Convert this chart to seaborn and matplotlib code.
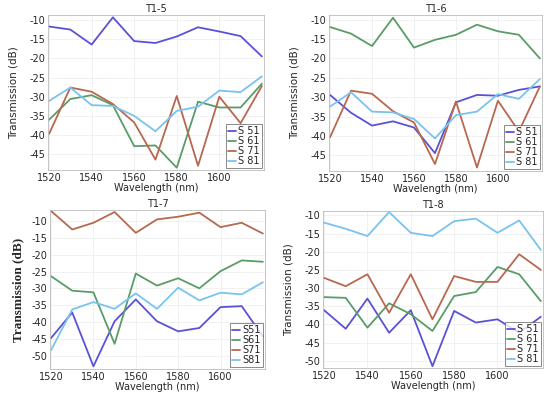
import numpy as np
import pandas as pd
import matplotlib
matplotlib.use("Agg")
import matplotlib.pyplot as plt
import seaborn as sns

# Wavelength grid (nm)
wavelength = [1520, 1530, 1540, 1550, 1560, 1570, 1580, 1590, 1600, 1610, 1620]

# T1-5
t15_s51 = [-11.7, -12.5, -16.4, -9.3, -15.5, -16.0, -14.3, -11.9, -13.0, -14.2, -19.5]
t15_s61 = [-36.0, -30.6, -29.6, -32.2, -42.9, -42.7, -48.5, -31.3, -32.8, -32.8, -26.6]
t15_s71 = [-39.7, -27.6, -28.7, -31.9, -36.7, -46.4, -29.8, -48.0, -30.0, -36.9, -27.2]
t15_s81 = [-31.1, -27.6, -32.2, -32.4, -35.0, -39.0, -33.7, -32.6, -28.4, -28.8, -24.7]

# T1-6
t16_s51 = [-29.4, -34.0, -37.3, -36.2, -37.8, -44.4, -31.3, -29.4, -29.6, -28.1, -27.2]
t16_s61 = [-11.9, -13.6, -16.8, -9.5, -17.2, -15.2, -13.9, -11.3, -13.0, -13.9, -20.0]
t16_s71 = [-40.3, -28.3, -29.1, -33.6, -36.5, -47.2, -31.1, -48.1, -30.9, -38.8, -27.2]
t16_s81 = [-32.4, -28.7, -33.7, -33.9, -35.6, -40.6, -34.6, -33.7, -29.2, -30.4, -25.3]

# T1-7
t17_s51 = [-44.8, -37.2, -53.2, -39.8, -33.3, -39.8, -42.8, -41.8, -35.6, -35.3, -44.3]
t17_s61 = [-26.4, -30.7, -31.2, -46.5, -25.6, -29.2, -27.0, -30.0, -24.9, -21.7, -22.1]
t17_s71 = [-7.0, -12.5, -10.5, -7.3, -13.5, -9.5, -8.7, -7.5, -11.8, -10.5, -13.7]
t17_s81 = [-48.4, -36.3, -34.1, -36.1, -31.5, -36.1, -29.8, -33.6, -31.3, -31.8, -28.2]

# T1-8
t18_s51 = [-36.1, -41.2, -32.9, -42.3, -36.1, -51.5, -36.3, -39.5, -38.6, -42.3, -37.9]
t18_s61 = [-32.5, -32.7, -40.9, -34.2, -37.2, -41.8, -32.2, -31.1, -24.2, -26.2, -33.6]
t18_s71 = [-27.2, -29.5, -26.2, -36.8, -26.2, -38.6, -26.7, -28.3, -28.3, -20.7, -25.0]
t18_s81 = [-12.0, -13.7, -15.7, -9.1, -14.8, -15.7, -11.6, -10.9, -14.8, -11.4, -19.5]

titles = ["T1-5", "T1-6", "T1-7", "T1-8"]
series_names = ["S 51", "S 61", "S 71", "S 81"]
series_names_t17 = ["S51", "S61", "S71", "S81"]
colors = ["#5a52d6", "#5a9c68", "#b8684e", "#78c4ee"]

panels = [
    (t15_s51, t15_s61, t15_s71, t15_s81),
    (t16_s51, t16_s61, t16_s71, t16_s81),
    (t17_s51, t17_s61, t17_s71, t17_s81),
    (t18_s51, t18_s61, t18_s71, t18_s81),
]

sns.set_style("white")
plt.rcParams["font.family"] = ["DejaVu Sans"]

fig = plt.figure(figsize=(5.5, 3.93), dpi=100)
W, H = 550, 393
# axes boxes in pixels: left, right, top, bottom
boxes = [(48, 264, 15, 170), (329, 542, 15, 171), (50, 265, 210, 369), (323, 543, 211, 368)]
ylims = [(-49.1, -8.7), (-49.0, -8.8), (-54.0, -6.7), (-52.0, -8.8)]
yticks = [np.arange(-45, -9, 5), np.arange(-45, -9, 5), np.arange(-50, -9, 5), np.arange(-50, -9, 5)]

for i, (title, data) in enumerate(zip(titles, panels)):
    l, r, t, b = boxes[i]
    ax = fig.add_axes([l / W, 1 - b / H, (r - l) / W, (b - t) / H])
    names = series_names_t17 if title == "T1-7" else series_names
    df = pd.DataFrame({
        "Wavelength": wavelength * 4,
        "Transmission": [v for s in data for v in s],
        "Series": [n for n in names for _ in wavelength],
    })
    sns.lineplot(data=df, x="Wavelength", y="Transmission", hue="Series",
                 palette=colors, linewidth=1.3, ax=ax)
    ax.set_xlim(1519.5, 1621)
    ax.set_ylim(*ylims[i])
    ax.set_xticks([1520, 1540, 1560, 1580, 1600])
    ax.set_yticks(yticks[i])
    ax.set_yticklabels([str(int(v)) for v in yticks[i]])
    ax.tick_params(labelsize=7, length=0, pad=2)
    ax.grid(True, color="#ececec", linewidth=0.5)
    for sp in ax.spines.values():
        sp.set_color("#bbbbbb")
        sp.set_linewidth(0.6)
    ax.set_title(title, fontsize=7, pad=2)
    ax.set_xlabel("Wavelength (nm)", fontsize=7, labelpad=0)
    if title == "T1-7":
        ax.set_ylabel("Transmission (dB)", fontsize=9.5, fontweight="bold",
                      family="Liberation Serif", labelpad=5)
    else:
        ax.set_ylabel("Transmission (dB)", fontsize=7.5, labelpad=8)
    leg = ax.legend(loc="lower right", fontsize=7, frameon=True, fancybox=False,
                    handlelength=0.8, handletextpad=0.3, borderpad=0.2,
                    labelspacing=0.0, borderaxespad=0.2)
    leg.get_frame().set_edgecolor("#555555")
    leg.get_frame().set_linewidth(0.6)

fig.savefig("out.png", dpi=100)
